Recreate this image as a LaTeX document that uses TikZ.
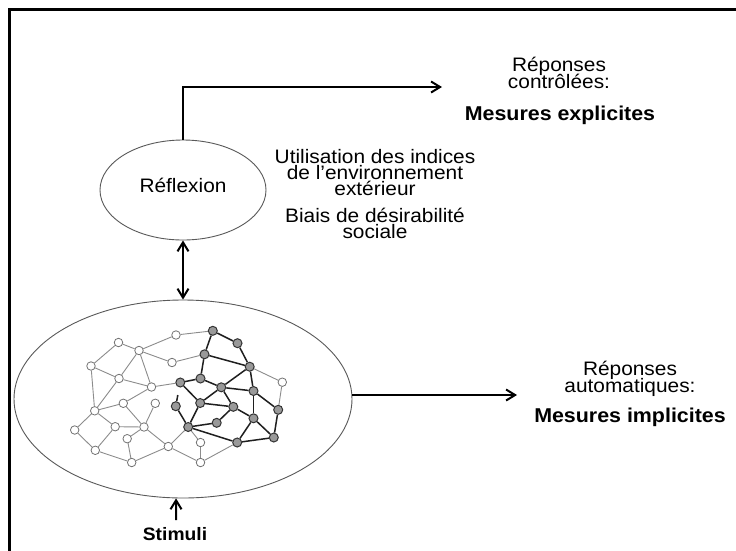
\documentclass[tikz,border=0pt]{standalone}
\usepackage{fontspec}
\setmainfont{Liberation Sans}[FakeStretch=1.07]
\usetikzlibrary{arrows.meta,shapes.geometric,calc,backgrounds}
\begin{document}
\begin{tikzpicture}[x=1pt,y=-1pt,
  arr/.style={line width=2pt,-{Straight Barb[length=9pt,width=11pt,line width=2pt]}},
  darr/.style={line width=2pt,{Straight Barb[length=9pt,width=11pt,line width=2pt]}-{Straight Barb[length=9pt,width=11pt,line width=2pt]}},
  oval/.style={ellipse,draw=black!65,line width=0.9pt,inner sep=0pt},
  txt/.style={anchor=base,inner sep=0pt,font=\fontsize{19.5}{19.5}\selectfont},
  btxt/.style={anchor=base,inner sep=0pt,font=\fontsize{20}{20}\selectfont\bfseries},
  wn/.style={circle,draw=black!55,fill=white,line width=0.8pt,inner sep=0pt,minimum size=8.5pt},
  gn/.style={circle,draw=black!80,fill=black!40,line width=1pt,inner sep=0pt,minimum size=9pt},
  le/.style={draw=black!45,line width=0.9pt},
  de/.style={draw=black!88,line width=1.5pt}]
\useasboundingbox (0,0) rectangle (736,550);
\begin{scope}[on background layer]
\fill[white] (0,0) rectangle (736,550);
\end{scope}
% frame (left and top)
\draw[line width=2.5pt,line cap=rect] (9.5,550) -- (9.5,9.5) -- (736,9.5);

% ellipses
\node[oval,minimum width=166pt,minimum height=100pt] (refl) at (183,190) {};
\node[txt] (refltxt) at (183,192) {Réflexion};
\node[oval,minimum width=338pt,minimum height=198pt] (net) at (183,399) {};

% texts
\node[txt] (rep1) at (559,71) {Réponses};
\node[txt] (rep2) at (559,88) {contrôlées:};
\node[btxt] (expl) at (560,120) {Mesures explicites};
\node[txt] (u1) at (375,163.5) {Utilisation des indices};
\node[txt] (u2) at (375,179.5) {de l’environnement};
\node[txt] (u3) at (375,195.5) {extérieur};
\node[txt] (b1) at (375,222.5) {Biais de désirabilité};
\node[txt] (b2) at (375,238.5) {sociale};
\node[txt] (rep3) at (630,375) {Réponses};
\node[txt] (rep4) at (630,392) {automatiques:};
\node[btxt] (impl) at (630,422) {Mesures implicites};
\node[btxt,font=\fontsize{18}{18}\selectfont\bfseries] (stim) at (175,540) {Stimuli};

% arrows
\coordinate (upend) at (442,87);
\coordinate (lowend) at (517,395);
\coordinate (stimtail) at (176,520);
\draw[arr] (refl.north) |- (upend);
\draw[darr] (refl.south) -- (net.north);
\draw[arr] ([yshift=4pt]net.east) -- (lowend);
\draw[arr] (stimtail) -- (net.-94);

% network nodes
\node[wn] (W1) at (176,335) {};
\node[wn] (W2) at (118.5,342.5) {};
\node[wn] (W3) at (139,350.5) {};
\node[wn] (W4) at (91,366) {};
\node[wn] (W5) at (172,362.5) {};
\node[wn] (W6) at (119,378.5) {};
\node[wn] (W7) at (151.5,387) {};
\node[wn] (W8) at (282.3,382.2) {};
\node[wn] (W9) at (123.3,403.3) {};
\node[wn] (W10) at (155.3,403.3) {};
\node[wn] (W11) at (94.7,410.8) {};
\node[wn] (W12) at (115.2,426.7) {};
\node[wn] (W13) at (144,427) {};
\node[wn] (W14) at (74.7,430) {};
\node[wn] (W15) at (127.2,438.7) {};
\node[wn] (W16) at (168.3,446.5) {};
\node[wn] (W17) at (200.5,442.5) {};
\node[wn] (W18) at (95.3,450.3) {};
\node[wn] (W19) at (131.7,462.5) {};
\node[wn] (W20) at (200.5,462.5) {};
\node[gn] (G1) at (212.8,330.8) {};
\node[gn] (G2) at (237.5,343.2) {};
\node[gn] (G3) at (204.5,354.3) {};
\node[gn] (G4) at (249.7,366.7) {};
\node[gn] (G5) at (180.3,382.5) {};
\node[gn] (G6) at (200.5,378.5) {};
\node[gn] (G7) at (221.3,387.3) {};
\node[gn] (G8) at (253.5,391) {};
\node[gn] (G9) at (200.2,403) {};
\node[gn] (G10) at (233.3,406.8) {};
\node[gn] (G11) at (175.8,406.2) {};
\node[gn] (G12) at (278.2,409.8) {};
\node[gn] (G13) at (253.5,418.3) {};
\node[gn] (G14) at (216.7,422.8) {};
\node[gn] (G15) at (188.2,427) {};
\node[gn] (G16) at (237.2,442.5) {};
\node[gn] (G17) at (273.8,437.5) {};
\coordinate (stub) at (177.8,395);

\begin{scope}[on background layer]
\foreach \a/\b in {W2/W3,W2/W4,W3/W1,W1/G1,W3/W5,W5/G3,W3/W6,W3/W7,W4/W6,W4/W11,
  W6/W7,W7/G5,W6/W11,W7/W9,W11/W9,W11/W12,W11/W14,W14/W18,W12/W18,W12/W13,
  W9/W13,W10/W13,W13/W15,W15/W19,W18/W19,W13/W16,W16/W19,W16/W20,W16/G15,
  W17/G15,W17/W20,W20/G16,G4/W8,W8/G12}
  \draw[le] (\a) -- (\b);
\foreach \a/\b in {G1/G2,G1/G3,G2/G4,G3/G4,G3/G6,G4/G7,G4/G8,G5/G6,G6/G7,G7/G8,
  G5/G9,G7/G9,G7/G10,G9/G10,G9/G15,G10/G14,G10/G13,G8/G13,G8/G12,G13/G16,
  G13/G17,G12/G17,G16/G17,G15/G14,G15/G16,G11/G15,G11/stub}
  \draw[de] (\a) -- (\b);
\end{scope}
\end{tikzpicture}
\end{document}
